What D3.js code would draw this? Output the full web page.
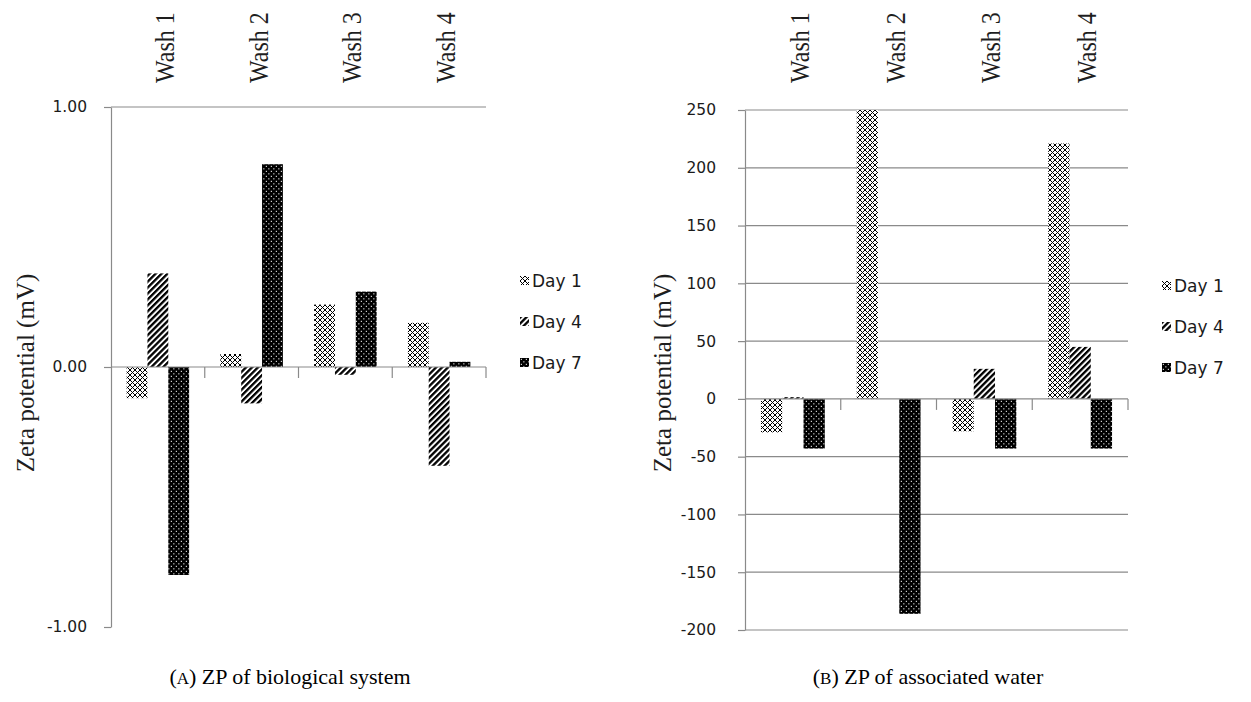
<!DOCTYPE html>
<html>
<head>
<meta charset="utf-8">
<script src="https://cdn.jsdelivr.net/npm/d3@7"></script>
<style>
  html, body { margin: 0; padding: 0; background: #fff; }
  svg { display: block; }
</style>
</head>
<body>
<svg id="chart" width="1251" height="702"></svg>
<script>
// Categories and series
const washes = ["Wash 1", "Wash 2", "Wash 3", "Wash 4"];
const days = ["Day 1", "Day 4", "Day 7"];

// (A) zeta potential of the biological system, mV
const bioDay1 = [-0.12, 0.05, 0.24, 0.17];
const bioDay4 = [0.36, -0.14, -0.03, -0.38];
const bioDay7 = [-0.80, 0.78, 0.29, 0.02];
const bioTicks = [-1, 0, 1];
const bioGrid = [1];

// (B) zeta potential of the associated water, mV
const waterDay1 = [-29, 250, -28, 221];
const waterDay4 = [1.5, 0, 26, 45];
const waterDay7 = [-43, -186, -43, -43];
const waterTicks = [-200, -150, -100, -50, 0, 50, 100, 150, 200, 250];
const waterGrid = [-200, -150, -100, -50, 50, 100, 150, 200, 250];

const svg = d3.select("#chart");
const axisColor = "#8a8a8a";
const serif = "'Liberation Serif', 'Times New Roman', serif";
const sans = "'DejaVu Sans', Verdana, sans-serif";

// plain hyphen for negative tick labels
const hyphen = f => d => f(d).replace("\u2212", "-");

// Fill patterns for the three series
const defs = svg.append("defs");

const p1 = defs.append("pattern").attr("id", "pat-day1")
  .attr("patternUnits", "userSpaceOnUse").attr("width", 5).attr("height", 5);
p1.append("rect").attr("width", 5).attr("height", 5).attr("fill", "#fff");
p1.append("path").attr("d", "M0,0L5,5M5,0L0,5M-1,4L1,6M4,-1L6,1M-1,1L1,-1M4,6L6,4")
  .attr("stroke", "#000").attr("stroke-width", 1);

const p4 = defs.append("pattern").attr("id", "pat-day4")
  .attr("patternUnits", "userSpaceOnUse").attr("width", 4.2).attr("height", 6)
  .attr("patternTransform", "rotate(45)");
p4.append("rect").attr("width", 4.2).attr("height", 6).attr("fill", "#fff");
p4.append("rect").attr("width", 2.3).attr("height", 6).attr("fill", "#000");

const p7 = defs.append("pattern").attr("id", "pat-day7")
  .attr("patternUnits", "userSpaceOnUse").attr("width", 5).attr("height", 5);
p7.append("rect").attr("width", 5).attr("height", 5).attr("fill", "#000");
p7.append("rect").attr("x", 0.8).attr("y", 0.8).attr("width", 1.1).attr("height", 1.1).attr("fill", "#fff");
p7.append("rect").attr("x", 3.3).attr("y", 3.3).attr("width", 1.1).attr("height", 1.1).attr("fill", "#fff");

const fills = { "Day 1": "url(#pat-day1)", "Day 4": "url(#pat-day4)", "Day 7": "url(#pat-day7)" };

function drawPanel(cfg) {
  const g = svg.append("g");
  const x = d3.scaleBand().domain(washes).range([cfg.x0, cfg.x1]).paddingInner(0).paddingOuter(0);
  const bw = x.bandwidth();
  const xi = d3.scaleBand().domain(days).range([0, bw]).paddingInner(0).paddingOuter(0.75);
  const y = d3.scaleLinear().domain(cfg.domain).range([cfg.yBot, cfg.yTop]);

  // horizontal gridlines
  g.append("g").selectAll("line").data(cfg.grid).join("line")
    .attr("x1", cfg.x0).attr("x2", cfg.x1)
    .attr("y1", d => y(d)).attr("y2", d => y(d))
    .attr("stroke", axisColor).attr("stroke-width", 1.2);

  // bars
  const rows = washes.map((w, i) => days.map((d, j) => ({ wash: w, day: d, v: cfg.series[j][i] }))).flat();
  g.append("g").selectAll("rect").data(rows).join("rect")
    .attr("x", d => x(d.wash) + xi(d.day))
    .attr("width", xi.bandwidth())
    .attr("y", d => Math.min(y(d.v), y(0)))
    .attr("height", d => Math.abs(y(d.v) - y(0)))
    .attr("fill", d => fills[d.day]);

  // category axis along zero, ticks hang below
  const cat = g.append("g");
  cat.append("line").attr("x1", cfg.x0).attr("x2", cfg.x1)
    .attr("y1", y(0)).attr("y2", y(0)).attr("stroke", axisColor).attr("stroke-width", 1.2);
  cat.selectAll("line.tk").data(washes).join("line").attr("class", "tk")
    .attr("x1", d => x(d) + bw).attr("x2", d => x(d) + bw)
    .attr("y1", y(0)).attr("y2", y(0) + 11)
    .attr("stroke", axisColor).attr("stroke-width", 1.2);

  // category labels across the top
  g.append("g").selectAll("text").data(washes).join("text")
    .attr("transform", d => `translate(${x(d) + bw / 2 + 16},83) rotate(-90) scale(1,1.15)`)
    .attr("text-anchor", "start")
    .attr("font-family", serif).attr("font-size", 24).attr("fill", "#1e1e1e")
    .text(d => d);

  // value axis
  const ya = g.append("g").attr("transform", `translate(${cfg.x0},0)`)
    .call(d3.axisLeft(y).tickValues(cfg.ticks).tickFormat(cfg.fmt)
      .tickSize(7).tickSizeOuter(0).tickPadding(cfg.tickPad));
  ya.select(".domain").attr("stroke", axisColor).attr("stroke-width", 1.2);
  ya.selectAll(".tick line").attr("stroke", axisColor).attr("stroke-width", 1.2);
  ya.selectAll(".tick text").attr("font-family", sans).attr("font-size", 15.5).attr("fill", "#1a1a1a");

  // axis title
  g.append("text")
    .attr("transform", `translate(${cfg.titleX},373) rotate(-90)`)
    .attr("text-anchor", "middle")
    .attr("font-family", serif).attr("font-size", 25).attr("fill", "#1e1e1e")
    .text("Zeta potential (mV)");

  // legend
  const lg = g.append("g").selectAll("g").data(days).join("g")
    .attr("transform", (d, i) => `translate(${cfg.legendX},${cfg.legendY[i]})`);
  lg.append("rect").attr("x", 0).attr("y", -5).attr("width", 9).attr("height", 9)
    .attr("fill", d => fills[d]);
  lg.append("text").attr("x", 12).attr("y", 0).attr("dy", "0.36em")
    .attr("font-family", sans).attr("font-size", 17).attr("fill", "#1a1a1a")
    .text(d => d);

  // caption
  const cap = g.append("text").attr("x", cfg.capX).attr("y", 684)
    .attr("text-anchor", "middle")
    .attr("font-family", serif).attr("font-size", 22).attr("fill", "#000");
  cap.append("tspan").text("(");
  cap.append("tspan").attr("font-size", 17).text(cfg.capLetter);
  cap.append("tspan").text(") " + cfg.caption);
}

drawPanel({
  x0: 111, x1: 486, yTop: 107, yBot: 627,
  domain: [-1, 1], ticks: bioTicks, grid: bioGrid, fmt: hyphen(d3.format(".2f")),
  series: [bioDay1, bioDay4, bioDay7], tickPad: 17,
  titleX: 34, legendX: 520, legendY: [281, 322, 363],
  capX: 290, capLetter: "A", caption: "ZP of biological system"
});

drawPanel({
  x0: 745, x1: 1128, yTop: 110, yBot: 630,
  domain: [-200, 250], ticks: waterTicks, grid: waterGrid, fmt: hyphen(d3.format("d")),
  series: [waterDay1, waterDay4, waterDay7], tickPad: 22,
  titleX: 671, legendX: 1162, legendY: [286, 327, 368],
  capX: 928, capLetter: "B", caption: "ZP of associated water"
});
</script>
</body>
</html>
